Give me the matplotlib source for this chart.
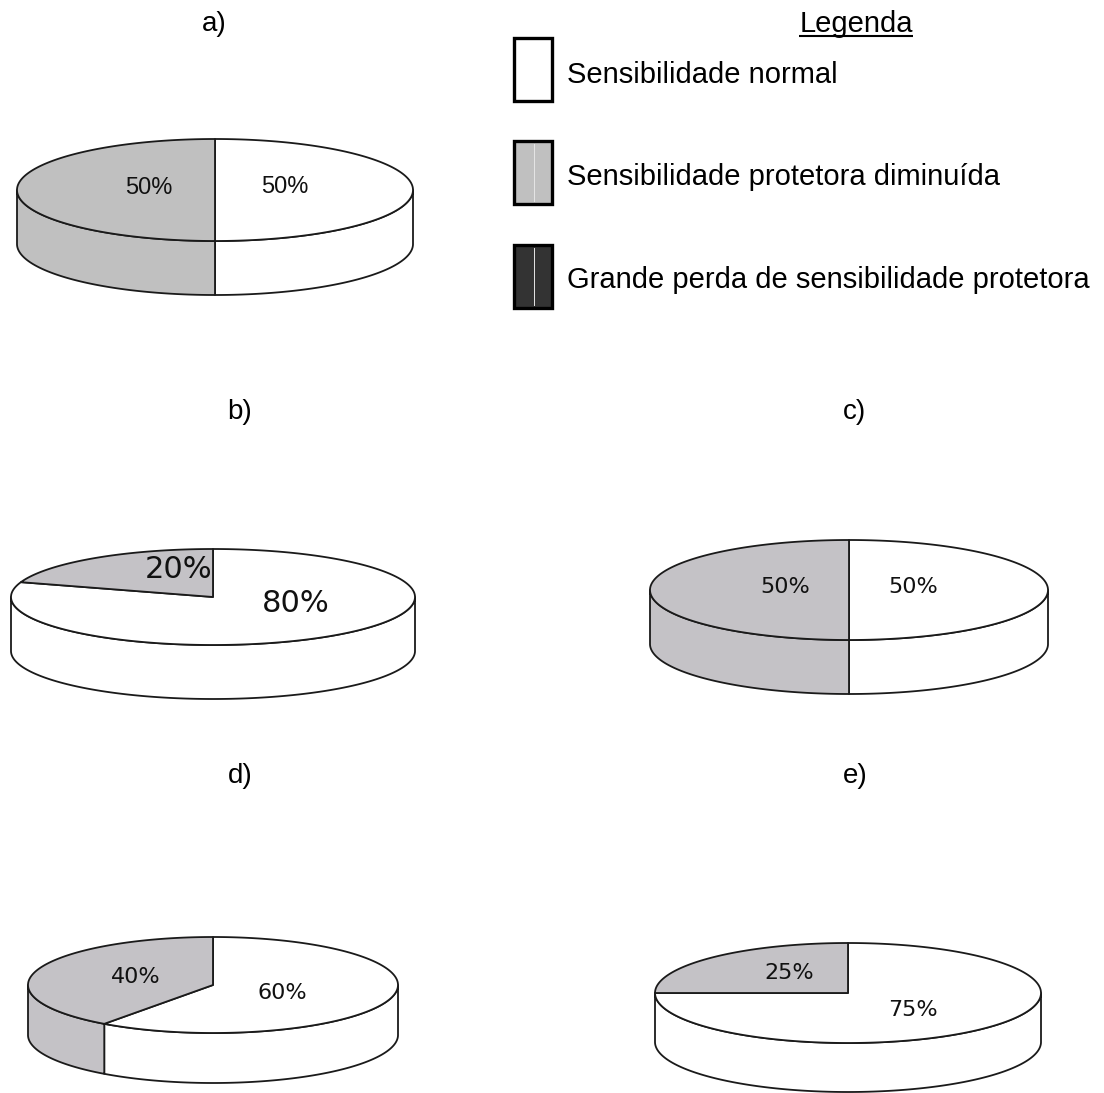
import numpy as np
import matplotlib
matplotlib.use("Agg")
import matplotlib.pyplot as plt
from matplotlib.patches import Polygon, Rectangle

# Shares (%) per panel: normal sensitivity, reduced protective sensitivity
panels = ["a)", "b)", "c)", "d)", "e)"]
normal_pct = [50, 80, 50, 60, 75]
reduced_pct = [50, 20, 50, 40, 25]

legend_title = "Legenda"
legend_labels = [
    "Sensibilidade normal",
    "Sensibilidade protetora diminuída",
    "Grande perda de sensibilidade protetora",
]

W, H = 1104, 1093
fig = plt.figure(figsize=(W / 100, H / 100), dpi=100)
ax = fig.add_axes([0, 0, 1, 1])
ax.set_xlim(0, W)
ax.set_ylim(H, 0)
ax.set_aspect("equal")
ax.axis("off")

# Layout of each pie: centre, semi-axes, wall depth, title pos, label offsets
layout = [
    dict(c=(215, 190), a=198, b=51, d=54, title=(214, 24), lab_font="Liberation Sans", lab_size=17,
         lab_off=[(70, -3), (-66, -2)], gray="#c0c0c0"),
    dict(c=(213, 597), a=202, b=48, d=54, title=(240, 412), lab_font="DejaVu Sans", lab_size=22,
         lab_off=[(83, 7), (-34, -27)], gray="#c4c2c6"),
    dict(c=(849, 590), a=199, b=50, d=54, title=(855, 412), lab_font="DejaVu Sans", lab_size=16,
         lab_off=[(64, -3), (-64, -3)], gray="#c4c2c6"),
    dict(c=(213, 985), a=185, b=48, d=50, title=(240, 776), lab_font="DejaVu Sans", lab_size=16,
         lab_off=[(69, 8), (-77, -8)], gray="#c4c2c6"),
    dict(c=(848, 993), a=193, b=50, d=49, title=(855, 776), lab_font="DejaVu Sans", lab_size=16,
         lab_off=[(65, 17), (-59, -20)], gray="#c4c2c6"),
]

EDGE = "#1a1a1a"
LW = 1.3


def arc(cx, cy, a, b, t1, t2, n=200):
    t = np.radians(np.linspace(t1, t2, n))
    return np.column_stack([cx + a * np.cos(t), cy - b * np.sin(t)])


def front_parts(t1, t2):
    """Portions of [t1, t2] (deg) facing the viewer, i.e. in [180, 360] mod 360."""
    parts = []
    for k in (-720, -360, 0, 360, 720):
        lo, hi = max(t1, 180 + k), min(t2, 360 + k)
        if hi > lo:
            parts.append((lo, hi))
    return parts


def draw_pie(L, values, colors):
    cx, cy = L["c"]
    a, b, d = L["a"], L["b"], L["d"]
    # slices run clockwise from 12 o'clock, first value first
    spans = []
    start = 90.0
    for v in values:
        ext = 360.0 * v / sum(values)
        spans.append((start - ext, start))
        start -= ext
    # side walls
    for (t1, t2), col in zip(spans, colors):
        for lo, hi in front_parts(t1, t2):
            top = arc(cx, cy, a, b, lo, hi)
            bot = top[::-1] + np.array([0, d])
            ax.add_patch(Polygon(np.vstack([top, bot]), closed=True, facecolor=col,
                                 edgecolor=EDGE, lw=LW, joinstyle="round", zorder=2))
    # top faces
    for (t1, t2), col in zip(spans, colors):
        pts = np.vstack([[cx, cy], arc(cx, cy, a, b, t1, t2)])
        ax.add_patch(Polygon(pts, closed=True, facecolor=col, edgecolor=EDGE,
                             lw=LW, joinstyle="round", zorder=3))
    # value labels
    for v, (dx, dy) in zip(values, L["lab_off"]):
        ax.text(cx + dx, cy + dy, f"{v}%", ha="center", va="center",
                fontsize=L["lab_size"], family=L["lab_font"], color="#111111", zorder=4)


for name, n, r, L in zip(panels, normal_pct, reduced_pct, layout):
    draw_pie(L, [n, r], ["white", L["gray"]])
    ax.text(L["title"][0], L["title"][1], name, ha="center", va="center",
            fontsize=20, family="Liberation Sans", color="black")

# Legend
LEG_FS = 21
t = ax.text(856, 32, legend_title, ha="center", va="baseline", fontsize=LEG_FS,
            family="Liberation Sans")
fig.canvas.draw()
bb = t.get_window_extent().transformed(ax.transData.inverted())
ax.plot([bb.x0, bb.x1], [36, 36], color="black", lw=1.5, solid_capstyle="butt")

box_fill = ["white", "#c0c0c0", "#333333"]
box_y = [38, 141, 245]
text_y = [75, 177, 280]
for lab, fc, by, ty in zip(legend_labels, box_fill, box_y, text_y):
    ax.add_patch(Rectangle((514, by), 38, 63, facecolor=fc, edgecolor="black",
                           lw=2.4, zorder=3))
    if fc != "white":
        ax.plot([534, 534], [by + 3, by + 60], color="#e6e6e6", lw=0.7, zorder=4)
    ax.text(567, ty, lab, ha="left", va="center", fontsize=LEG_FS,
            family="Liberation Sans", color="black")

fig.savefig("out.png", dpi=100, facecolor="white")
